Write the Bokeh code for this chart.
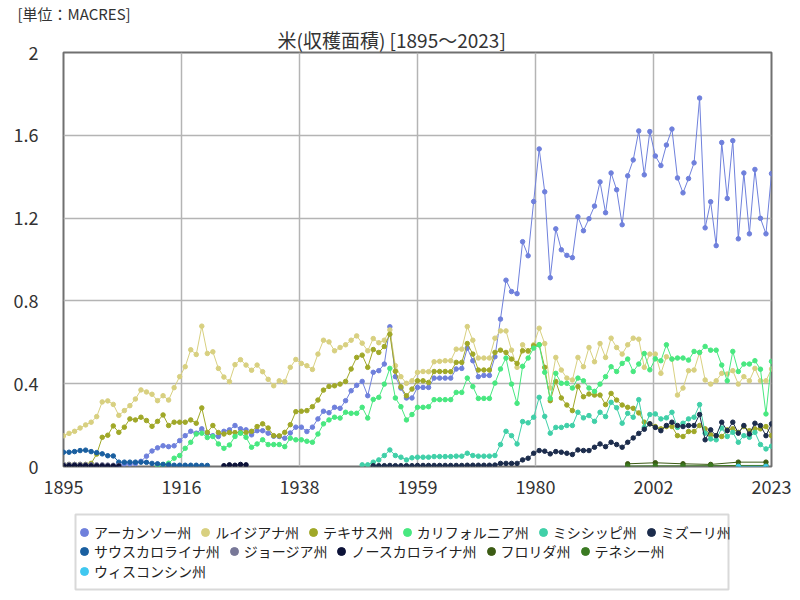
import numpy as np
from bokeh.plotting import figure
from bokeh.layouts import column
from bokeh.models import (FixedTicker, CustomJSTickFormatter, Legend, LegendItem,
                          Title, Range1d, ColumnDataSource, BoxAnnotation)
from bokeh.embed import file_html
from bokeh.resources import INLINE

# ---------------- data (million acres harvested) ----------------
YEAR_FIRST, YEAR_LAST = 1895, 2023
x_tick_count = 7
y_ticks = [0, 0.4, 0.8, 1.2, 1.6, 2.0]

title_text = "米(収穫面積) [1895～2023]"
unit_text = "[単位：MACRES]"

arkansas_start = 1905
arkansas = [
    0.010, 0.012, 0.012, 0.014, 0.025, 0.050, 0.075, 0.090, 0.100, 0.096,
    0.100, 0.125, 0.149, 0.170, 0.161, 0.182, 0.161, 0.149, 0.145, 0.170,
    0.177, 0.198, 0.182, 0.177, 0.153, 0.173, 0.173, 0.161, 0.146, 0.145,
    0.137, 0.162, 0.190, 0.190, 0.169, 0.190, 0.230, 0.267, 0.260, 0.286,
    0.281, 0.318, 0.366, 0.392, 0.411, 0.342, 0.455, 0.463, 0.495, 0.675,
    0.434, 0.379, 0.331, 0.331, 0.382, 0.382, 0.382, 0.427, 0.427, 0.427,
    0.427, 0.471, 0.474, 0.572, 0.511, 0.434, 0.440, 0.440, 0.530, 0.712,
    0.900, 0.845, 0.835, 1.086, 1.018, 1.280, 1.534, 1.327, 0.912, 1.148,
    1.047, 1.020, 1.009, 1.206, 1.139, 1.197, 1.258, 1.375, 1.226, 1.418,
    1.337, 1.168, 1.404, 1.481, 1.621, 1.409, 1.618, 1.500, 1.454, 1.553,
    1.630, 1.394, 1.322, 1.391, 1.467, 1.780, 1.153, 1.279, 1.067, 1.565,
    1.295, 1.574, 1.100, 1.418, 1.124, 1.435, 1.199, 1.124, 1.415,
]

louisiana_start = 1895
louisiana = [
    0.148, 0.160, 0.170, 0.186, 0.201, 0.214, 0.241, 0.312, 0.317, 0.300,
    0.247, 0.270, 0.294, 0.326, 0.370, 0.360, 0.349, 0.318, 0.342, 0.321,
    0.381, 0.434, 0.482, 0.564, 0.541, 0.678, 0.546, 0.554, 0.474, 0.432,
    0.410, 0.492, 0.516, 0.490, 0.465, 0.490, 0.458, 0.421, 0.390, 0.414,
    0.410, 0.479, 0.517, 0.498, 0.487, 0.469, 0.543, 0.610, 0.602, 0.559,
    0.575, 0.588, 0.610, 0.631, 0.596, 0.559, 0.618, 0.598, 0.610, 0.660,
    0.487, 0.434, 0.402, 0.414, 0.455, 0.459, 0.458, 0.506, 0.508, 0.511,
    0.511, 0.567, 0.567, 0.676, 0.610, 0.524, 0.524, 0.524, 0.620, 0.655,
    0.655, 0.562, 0.479, 0.588, 0.556, 0.588, 0.668, 0.594, 0.379, 0.527,
    0.466, 0.427, 0.418, 0.527, 0.482, 0.575, 0.506, 0.594, 0.527, 0.620,
    0.575, 0.543, 0.588, 0.620, 0.615, 0.479, 0.543, 0.543, 0.450, 0.530,
    0.519, 0.345, 0.379, 0.463, 0.466, 0.551, 0.418, 0.398, 0.414, 0.450,
    0.447, 0.463, 0.398, 0.434, 0.414, 0.474, 0.414, 0.414, 0.471,
]

texas_start = 1895
texas = [
    0.010, 0.010, 0.010, 0.010, 0.010, 0.015, 0.060, 0.141, 0.151, 0.196,
    0.165, 0.190, 0.230, 0.225, 0.238, 0.222, 0.194, 0.218, 0.249, 0.198,
    0.214, 0.214, 0.214, 0.225, 0.209, 0.283, 0.165, 0.198, 0.164, 0.157,
    0.164, 0.164, 0.164, 0.164, 0.170, 0.193, 0.206, 0.186, 0.149, 0.148,
    0.165, 0.202, 0.265, 0.267, 0.270, 0.289, 0.321, 0.369, 0.387, 0.390,
    0.398, 0.411, 0.471, 0.527, 0.538, 0.479, 0.565, 0.551, 0.580, 0.639,
    0.460, 0.385, 0.342, 0.374, 0.414, 0.414, 0.406, 0.459, 0.459, 0.459,
    0.458, 0.503, 0.503, 0.594, 0.543, 0.466, 0.466, 0.466, 0.551, 0.562,
    0.551, 0.519, 0.498, 0.559, 0.559, 0.583, 0.588, 0.479, 0.318, 0.411,
    0.331, 0.297, 0.270, 0.386, 0.337, 0.350, 0.345, 0.345, 0.299, 0.353,
    0.321, 0.297, 0.286, 0.281, 0.259, 0.214, 0.206, 0.193, 0.182, 0.193,
    0.193, 0.149, 0.145, 0.169, 0.169, 0.198, 0.182, 0.153, 0.149, 0.145,
    0.177, 0.182, 0.165, 0.193, 0.173, 0.182, 0.182, 0.193, 0.149,
]

california_start = 1912
california = [
    0.005, 0.010, 0.016, 0.040, 0.053, 0.088, 0.117, 0.157, 0.161, 0.140,
    0.145, 0.109, 0.088, 0.104, 0.145, 0.161, 0.141, 0.093, 0.109, 0.129,
    0.106, 0.106, 0.106, 0.096, 0.137, 0.129, 0.129, 0.122, 0.117, 0.157,
    0.206, 0.225, 0.238, 0.234, 0.262, 0.257, 0.257, 0.286, 0.234, 0.324,
    0.334, 0.398, 0.474, 0.331, 0.289, 0.225, 0.251, 0.286, 0.286, 0.289,
    0.323, 0.323, 0.323, 0.323, 0.358, 0.358, 0.427, 0.386, 0.329, 0.329,
    0.329, 0.403, 0.471, 0.524, 0.398, 0.305, 0.484, 0.524, 0.572, 0.588,
    0.455, 0.329, 0.450, 0.402, 0.402, 0.379, 0.427, 0.414, 0.379, 0.363,
    0.398, 0.434, 0.482, 0.459, 0.498, 0.519, 0.459, 0.495, 0.546, 0.467,
    0.520, 0.511, 0.588, 0.519, 0.524, 0.524, 0.514, 0.556, 0.551, 0.580,
    0.562, 0.562, 0.490, 0.414, 0.556, 0.459, 0.495, 0.495, 0.511, 0.470,
    0.254, 0.508,
]

mississippi_start = 1949
mississippi = [
    0.008, 0.008, 0.021, 0.032, 0.053, 0.080, 0.053, 0.045, 0.032, 0.042,
    0.045, 0.045, 0.045, 0.048, 0.048, 0.048, 0.048, 0.050, 0.050, 0.064,
    0.053, 0.050, 0.050, 0.050, 0.053, 0.106, 0.170, 0.149, 0.109, 0.217,
    0.211, 0.238, 0.334, 0.242, 0.161, 0.189, 0.189, 0.198, 0.198, 0.262,
    0.235, 0.246, 0.218, 0.262, 0.241, 0.310, 0.284, 0.209, 0.257, 0.238,
    0.323, 0.189, 0.251, 0.254, 0.230, 0.235, 0.262, 0.189, 0.209, 0.230,
    0.238, 0.299, 0.161, 0.133, 0.129, 0.186, 0.145, 0.165, 0.117, 0.149,
    0.141, 0.165, 0.106, 0.085, 0.098,
]

missouri_start = 1951
missouri = [
    0.004, 0.004, 0.004, 0.005, 0.004, 0.004, 0.004, 0.004, 0.005, 0.005,
    0.005, 0.005, 0.005, 0.005, 0.005, 0.005, 0.005, 0.006, 0.006, 0.006,
    0.006, 0.006, 0.007, 0.015, 0.015, 0.015, 0.015, 0.032, 0.040, 0.064,
    0.077, 0.074, 0.061, 0.072, 0.069, 0.064, 0.058, 0.080, 0.077, 0.077,
    0.093, 0.109, 0.096, 0.117, 0.106, 0.093, 0.117, 0.138, 0.160, 0.180,
    0.206, 0.189, 0.173, 0.198, 0.214, 0.198, 0.193, 0.198, 0.198, 0.251,
    0.129, 0.177, 0.149, 0.214, 0.173, 0.214, 0.161, 0.198, 0.157, 0.209,
    0.198, 0.149, 0.206,
]

south_carolina_start = 1895
south_carolina = [
    0.069, 0.069, 0.072, 0.077, 0.079, 0.072, 0.067, 0.061, 0.052, 0.051,
    0.021, 0.021, 0.021, 0.021, 0.021, 0.020, 0.015, 0.013, 0.010, 0.008,
    0.006, 0.006, 0.006, 0.006, 0.006, 0.005, 0.005,
]

georgia_start = 1895
georgia = [0.010, 0.010, 0.010, 0.010, 0.009, 0.009, 0.008, 0.008, 0.007, 0.006, 0.005]

north_carolina_start_a = 1895
north_carolina_a = [0.004, 0.004, 0.005, 0.004, 0.004, 0.003, 0.003, 0.003, 0.002, 0.002, 0.002]
north_carolina_start_b = 1924
north_carolina_b = [0.004, 0.008, 0.006, 0.010, 0.008]

census_years = [1997, 2002, 2007, 2012, 2017, 2022]
florida = [0.013, 0.018, 0.013, 0.010, 0.021, 0.021]
tennessee = [0.002, 0.003, 0.003, 0.004, 0.005, 0.005]
wisconsin_years = [2017, 2022]
wisconsin = [0.0005, 0.0005]

legend_rows = [6, 5, 1]   # items per legend row, as in the reference


def seg(start, vals):
    return list(range(start, start + len(vals))), list(vals)


def join(*segs):
    xs, ys = [], []
    for i, (sx, sy) in enumerate(segs):
        if i > 0:
            xs.append(np.nan)
            ys.append(np.nan)
        xs += list(sx)
        ys += list(sy)
    return np.array(xs, dtype=float), np.array(ys, dtype=float)


series = [
    ("アーカンソー州", "#6f80dc", join(seg(arkansas_start, arkansas))),
    ("ルイジアナ州", "#d8d080", join(seg(louisiana_start, louisiana))),
    ("テキサス州", "#a0a828", join(seg(texas_start, texas))),
    ("カリフォルニア州", "#48e880", join(seg(california_start, california))),
    ("ミシシッピ州", "#40d0a8", join(seg(mississippi_start, mississippi))),
    ("ミズーリ州", "#1c2c4c", join(seg(missouri_start, missouri))),
    ("サウスカロライナ州", "#1a5fa0", join(seg(south_carolina_start, south_carolina))),
    ("ジョージア州", "#787898", join(seg(georgia_start, georgia))),
    ("ノースカロライナ州", "#0c1238", join(seg(north_carolina_start_a, north_carolina_a),
                                     seg(north_carolina_start_b, north_carolina_b))),
    ("フロリダ州", "#3c5c14", join((census_years, florida))),
    ("テネシー州", "#3a7a22", join((census_years, tennessee))),
    ("ウィスコンシン州", "#40c8f0", join((wisconsin_years, wisconsin))),
]

FONT = "Noto Sans CJK JP"
TEXT_COLOR = "#333333"
W = 792
LEFT, RIGHT = 63, 21          # identical side borders -> frames line up

# ---------------- main chart ----------------
p = figure(frame_width=708, frame_height=414,
           min_border_left=LEFT, min_border_right=RIGHT, min_border_top=0, min_border_bottom=38,
           x_range=Range1d(YEAR_FIRST, YEAR_LAST), y_range=Range1d(0, 2),
           output_backend="svg", toolbar_location=None, title=None,
           background_fill_color="white", border_fill_color="white")

# titles: the first one added sits next to the frame
p.add_layout(Title(text=title_text, align="left", offset=214, text_font=FONT,
                   text_font_size="19px", text_font_style="normal",
                   text_color=TEXT_COLOR, standoff=0), "above")
p.add_layout(Title(text=unit_text, align="left", offset=17 - LEFT, text_font=FONT,
                   text_font_size="15px", text_font_style="normal",
                   text_color=TEXT_COLOR, standoff=0), "above")

p.outline_line_color = "#707070"
p.outline_line_width = 2

xt = [YEAR_FIRST + k * (YEAR_LAST - YEAR_FIRST) / (x_tick_count - 1) for k in range(x_tick_count)]
p.xaxis.ticker = FixedTicker(ticks=xt)
p.xaxis.formatter = CustomJSTickFormatter(code="return Math.round(tick).toString()")
p.yaxis.ticker = FixedTicker(ticks=y_ticks)
p.yaxis.formatter = CustomJSTickFormatter(code="return (Math.round(tick*10)/10).toString()")

for ax in (p.xaxis, p.yaxis):
    ax.axis_line_color = None
    ax.major_tick_line_color = None
    ax.minor_tick_line_color = None
    ax.major_label_text_font = FONT
    ax.major_label_text_color = TEXT_COLOR
    ax.major_label_text_font_size = "18px"
p.xaxis.major_label_standoff = 7
p.yaxis.major_label_standoff = 19

p.grid.grid_line_color = "#b4b4b4"
p.grid.grid_line_width = 1.5

sources = []
for name, color, (xs, ys) in series:
    src = ColumnDataSource(dict(x=xs, y=ys))
    sources.append(src)
    p.line("x", "y", source=src, line_color=color, line_width=1)
    p.scatter("x", "y", source=src, size=4.5, fill_color=color, line_color=color)

# ---------------- legend box (flowing rows, like the reference) ----------------
LEG_H = 90
leg = figure(width=W, height=LEG_H, x_range=Range1d(0, 1), y_range=Range1d(0, 1),
             x_axis_type=None, y_axis_type=None,
             min_border_left=LEFT, min_border_right=RIGHT, min_border_top=0, min_border_bottom=0,
             output_backend="svg", toolbar_location=None, title=None)
leg.outline_line_color = None
leg.grid.visible = False
leg.add_layout(BoxAnnotation(left=12, right=665, bottom=5, top=80,
                             left_units="screen", right_units="screen",
                             bottom_units="screen", top_units="screen",
                             fill_alpha=0, line_color="#808080", line_width=2))

items = []
for (name, color, _), src in zip(series, sources):
    # same data as the chart; the legend panel's range shows none of it
    r = leg.scatter("x", "y", source=src, marker="circle", fill_color=color, line_color=color)
    items.append(LegendItem(label=name, renderers=[r]))

row_bottoms = [52, 33, 13]
k = 0
for n, vb in zip(legend_rows, row_bottoms):
    lg = Legend(items=items[k:k + n], orientation="horizontal", nrows=1,
                location=(11, vb), border_line_color=None, background_fill_alpha=0,
                label_text_font=FONT, label_text_font_size="14px", label_text_color="#222222",
                glyph_width=20, glyph_height=20, label_standoff=0, spacing=4,
                padding=0, margin=0, label_height=15)
    leg.add_layout(lg)
    k += n

layout = column(p, leg, spacing=0)
open("out.html", "w").write(file_html(layout, INLINE))
